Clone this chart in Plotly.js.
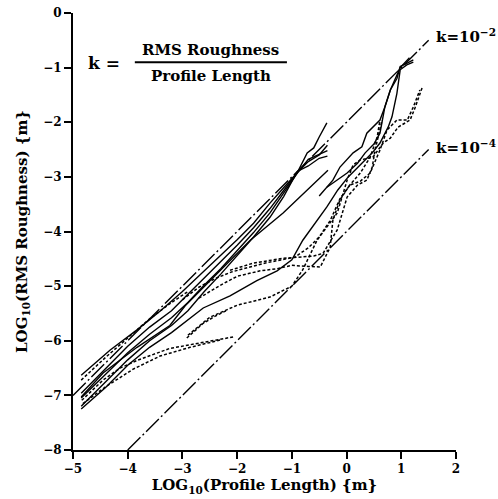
<!DOCTYPE html>
<html><head><meta charset="utf-8">
<script src="https://cdn.plot.ly/plotly-3.0.1.min.js"></script>
<style>html,body{margin:0;padding:0;background:#fff}#c{width:498px;height:499px}</style>
</head><body><div id="c"></div>
<script>
// Reference lines k = 1e-2 and k = 1e-4
const k2X = [-5, 1.5], k2Y = [-7, -0.5];
const k4X = [-4, 1.5], k4Y = [-8, -2.5];

// Solid profiles (log10 length, log10 rms)
const a1X = [-4.85,-4.32,-3.83,-3.4,-3.0,-2.6,-2.3,-2.0,-1.7,-1.4,-1.15,-0.9,-0.72,-0.6,-0.5,-0.36];
const a1Y = [-6.63,-6.17,-5.8,-5.45,-5.1,-4.72,-4.45,-4.15,-3.85,-3.48,-3.2,-2.92,-2.56,-2.47,-2.27,-2.01];
const a2X = [-4.85,-4.4,-4.0,-3.6,-3.2,-2.9,-2.6,-2.3,-2.0,-1.7,-1.4,-1.15,-0.9,-0.7,-0.5,-0.35];
const a2Y = [-6.96,-6.5,-6.1,-5.75,-5.45,-5.15,-4.85,-4.55,-4.25,-3.93,-3.58,-3.25,-2.92,-2.72,-2.6,-2.42];
const a3X = [-4.85,-4.4,-4.0,-3.6,-3.2,-2.9,-2.6,-2.3,-2.0,-1.7,-1.4,-1.15,-0.9,-0.7,-0.5,-0.35];
const a3Y = [-7.05,-6.62,-6.22,-5.88,-5.58,-5.3,-4.98,-4.68,-4.36,-4.02,-3.66,-3.3,-2.93,-2.68,-2.58,-2.52];
const a4X = [-4.85,-4.4,-4.0,-3.6,-3.2,-2.9,-2.6,-2.3,-2.0,-1.7,-1.4,-1.15,-0.9,-0.7,-0.5,-0.35];
const a4Y = [-7.2,-6.75,-6.35,-6.0,-5.72,-5.45,-5.1,-4.78,-4.45,-4.1,-3.74,-3.36,-2.9,-2.8,-2.66,-2.62];
const a5X = [-4.85,-4.45,-3.83,-3.23,-2.95,-2.4,-1.76,-1.16,-0.67,-0.34];
const a5Y = [-7.03,-6.59,-6.12,-5.72,-5.36,-4.8,-4.16,-3.66,-3.2,-2.88];
const a6X = [-4.85,-4.4,-4.0,-3.6,-3.2,-2.9,-2.62,-2.13,-1.64,-1.27,-1.0,-0.8,-0.58,-0.36,-0.16,0.03,0.28,0.47,0.61,0.76,0.83,0.92,0.98,1.1,1.22];
const a6Y = [-7.25,-6.85,-6.45,-6.12,-5.85,-5.62,-5.4,-5.18,-4.9,-4.72,-4.52,-4.16,-3.85,-3.55,-3.24,-3.0,-2.75,-2.56,-2.38,-2.09,-1.9,-1.47,-1.04,-0.95,-0.9];
const b1X = [-0.36,-0.15,0.01,0.2,0.34,0.5,0.61,0.7,0.8,0.92,0.98,1.1,1.22];
const b1Y = [-3.19,-3.05,-2.93,-2.75,-2.56,-2.4,-2.2,-1.72,-1.41,-1.2,-0.98,-0.92,-0.86];
const b2X = [-0.5,-0.25,-0.12,0.12,0.28,0.37,0.61,0.7,0.8,0.98,1.15];
const b2Y = [-3.35,-3.06,-2.82,-2.56,-2.45,-2.2,-1.96,-1.72,-1.41,-1.0,-0.82];

// Dotted profiles
const d1X = [-4.85,-4.4,-4.0,-3.6,-3.2,-2.9];
const d1Y = [-6.72,-6.3,-5.95,-5.6,-5.3,-5.1];
const d2X = [-4.84,-4.45,-4.14,-3.83,-3.23,-2.68,-2.3,-2.07];
const d2Y = [-7.09,-6.72,-6.5,-6.36,-6.14,-6.04,-5.98,-5.93];
const d3X = [-4.82,-4.4,-3.9,-3.41,-2.86,-2.28];
const d3Y = [-7.15,-6.84,-6.52,-6.28,-6.12,-5.98];
const d4X = [-2.92,-2.75,-2.62,-2.4,-2.18];
const d4Y = [-5.95,-5.8,-5.68,-5.55,-5.44];
const d5X = [-3.0,-2.7,-2.4,-2.1,-1.8,-1.5,-1.2,-0.95,-0.7,-0.5,-0.3,-0.12,0.06,0.25,0.43,0.61,0.74,0.92,1.11,1.22,1.34];
const d5Y = [-5.25,-5.02,-4.86,-4.74,-4.66,-4.58,-4.52,-4.47,-4.3,-4.1,-3.8,-3.4,-3.15,-3.08,-2.93,-2.51,-2.14,-1.96,-1.96,-1.72,-1.41];
const d6X = [-2.9,-2.5,-2.0,-1.4,-1.0,-0.8,-0.54,-0.35,-0.17,0.01,0.12,0.25,0.48,0.67,0.8,0.94,1.16,1.25,1.38];
const d6Y = [-5.9,-5.57,-5.35,-5.2,-5.0,-4.7,-4.16,-3.9,-3.66,-3.06,-2.78,-2.69,-2.64,-2.38,-2.29,-2.09,-1.96,-1.74,-1.37];
const d7X = [-2.7,-2.3,-2.0,-1.58,-1.27,-1.0,-0.7,-0.48,-0.3,-0.25,-0.12,0.06,0.25,0.43,0.56,0.61];
const d7Y = [-5.22,-4.98,-4.82,-4.72,-4.68,-4.62,-4.64,-4.65,-4.29,-3.79,-3.42,-3.15,-2.93,-2.64,-2.27,-1.96];
const d8X = [-2.13,-1.71,-1.16,-0.89,-0.6,-0.43,-0.17,0.01,0.2,0.37,0.47,0.52,0.58,0.65];
const d8Y = [-4.71,-4.58,-4.49,-4.47,-4.45,-4.4,-3.97,-3.37,-3.15,-3.06,-2.82,-2.51,-2.27,-1.96];

const solid = [[a1X,a1Y],[a2X,a2Y],[a3X,a3Y],[a4X,a4Y],[a5X,a5Y],[a6X,a6Y],[b1X,b1Y],[b2X,b2Y]];
const dotted = [[d1X,d1Y],[d2X,d2Y],[d3X,d3Y],[d4X,d4Y],[d5X,d5Y],[d6X,d6Y],[d7X,d7Y],[d8X,d8Y]];

const traces = [];
solid.forEach(s => traces.push({x:s[0], y:s[1], mode:'lines', line:{color:'#000', width:1.4}, showlegend:false, hoverinfo:'skip'}));
dotted.forEach(s => traces.push({x:s[0], y:s[1], mode:'lines', line:{color:'#000', width:1.5, dash:'3px,2px'}, showlegend:false, hoverinfo:'skip'}));
traces.push({x:k2X, y:k2Y, mode:'lines', line:{color:'#000', width:1.4, dash:'18px,3px,2px,3px'}, showlegend:false, hoverinfo:'skip'});
traces.push({x:k4X, y:k4Y, mode:'lines', line:{color:'#000', width:1.4, dash:'18px,3px,2px,3px'}, showlegend:false, hoverinfo:'skip'});

const F = 'DejaVu Serif, Liberation Serif, serif';
const layout = {
  width: 498, height: 499,
  margin: {l:73, r:42, t:13, b:49},
  paper_bgcolor:'#fff', plot_bgcolor:'#fff',
  font: {family: F, color:'#000', size:12},
  xaxis: {range:[-5,2], dtick:1, tick0:-5, showgrid:false, zeroline:false, showline:true, linewidth:2, linecolor:'#000',
          ticks:'outside', ticklen:7, tickwidth:2, tickcolor:'#000',
          tickfont:{family:F, size:12, weight:'bold', color:'#000'},
          title:{text:'<b>LOG<sub>10</sub>(Profile Length) {m}</b>', font:{family:F, size:15, color:'#000'}, standoff:4}},
  yaxis: {range:[-8,0], dtick:1, showgrid:false, zeroline:false, showline:true, linewidth:2, linecolor:'#000',
          ticks:'outside', ticklen:7, tickwidth:2, tickcolor:'#000',
          tickfont:{family:F, size:12, weight:'bold', color:'#000'},
          title:{text:'<b>LOG<sub>10</sub>(RMS Roughness) {m}</b>', font:{family:F, size:15, color:'#000'}, standoff:12}},
  annotations: [
    {x:-4.43, y:-0.92, xref:'x', yref:'y', text:'<b>k =</b>', showarrow:false, font:{family:F, size:17, color:'#000'}},
    {x:-2.48, y:-0.68, xref:'x', yref:'y', text:'<b>RMS Roughness</b>', showarrow:false, font:{family:F, size:15, color:'#000'}},
    {x:-2.48, y:-1.15, xref:'x', yref:'y', text:'<b>Profile Length</b>', showarrow:false, font:{family:F, size:15, color:'#000'}},
    {x:1.6, y:-0.42, xref:'x', yref:'y', xanchor:'left', text:'<b>k=10<sup>−2</sup></b>', showarrow:false, font:{family:F, size:15, color:'#000'}},
    {x:1.6, y:-2.45, xref:'x', yref:'y', xanchor:'left', text:'<b>k=10<sup>−4</sup></b>', showarrow:false, font:{family:F, size:15, color:'#000'}}
  ],
  shapes: [
    {type:'line', xref:'x', yref:'y', x0:-3.87, x1:-1.09, y0:-0.9, y1:-0.9, line:{color:'#000', width:2}}
  ]
};
Plotly.newPlot('c', traces, layout, {staticPlot:true, displayModeBar:false});
</script></body></html>
